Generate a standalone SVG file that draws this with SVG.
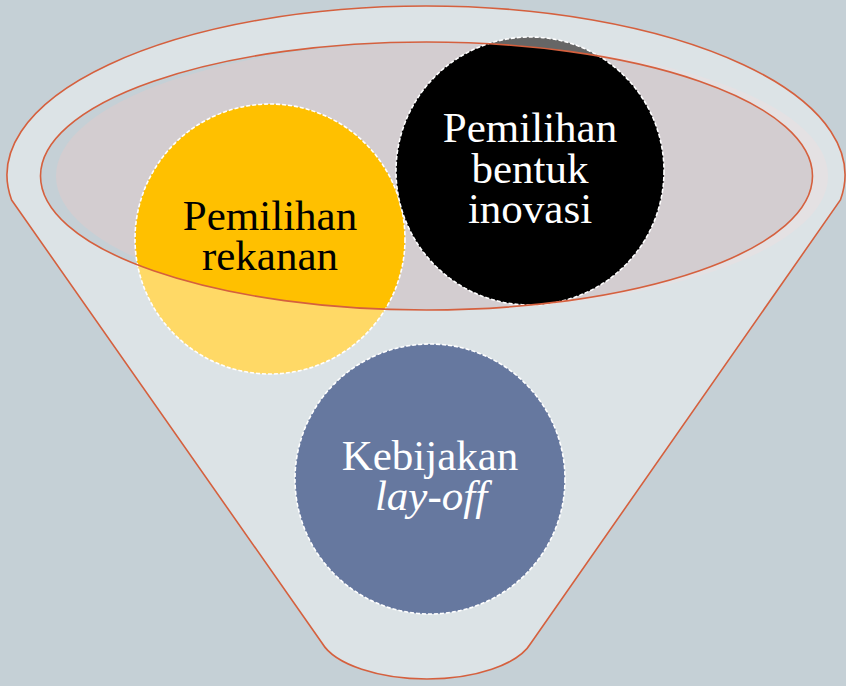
<svg xmlns="http://www.w3.org/2000/svg" width="846" height="686" viewBox="0 0 846 686">
<style>
.node{stroke:#FFFFFF;stroke-width:1.6;stroke-dasharray:4 2}
.lbl{font-family:"Liberation Serif","Times New Roman",serif;font-size:43px;text-anchor:middle}
.outline{fill:none;stroke:#D5603E;stroke-width:1.6}
</style>
<rect x="0" y="0" width="846" height="686" fill="#C5D0D6"/>
<ellipse id="funnel-mouth" cx="442" cy="176" rx="386" ry="134" fill="#D3CDD0"/>
<g id="node-rekanan">
<circle class="node" cx="270" cy="239" r="135" fill="#FFC000"/>
<text class="lbl" fill="#000000"><tspan x="270" y="230">Pemilihan</tspan><tspan x="270" y="270">rekanan</tspan></text>
</g>
<g id="node-bentuk">
<circle class="node" cx="530" cy="171" r="134" fill="#000000"/>
<text class="lbl" fill="#FFFFFF"><tspan x="530" y="142">Pemilihan</tspan><tspan x="530" y="183">bentuk</tspan><tspan x="530" y="223">inovasi</tspan></text>
</g>
<g id="funnel">
<path d="M 11.6,200 L 322,643 C 335,665 380,679 427,679 C 474,679 518,665 531,643 L 840.4,200 A 419 169 0 1 0 11.6,200 Z M 40.5,176 A 386 134 0 1 0 812.5,176 A 386 134 0 1 0 40.5,176 Z" fill="#FFFFFF" fill-opacity="0.4" fill-rule="evenodd"/>
<path class="outline" d="M 11.6,200 L 322,643 C 335,665 380,679 427,679 C 474,679 518,665 531,643 L 840.4,200 A 419 169 0 1 0 11.6,200 Z"/>
<ellipse class="outline" cx="426.5" cy="176" rx="386" ry="134"/>
</g>
<g id="node-layoff">
<circle class="node" cx="430" cy="479" r="135" fill="#66789F"/>
<text class="lbl" fill="#FFFFFF"><tspan x="430" y="470">Kebijakan</tspan><tspan x="431" y="510" font-style="italic">lay-off</tspan></text>
</g>
<g id="connectors"/>
</svg>
